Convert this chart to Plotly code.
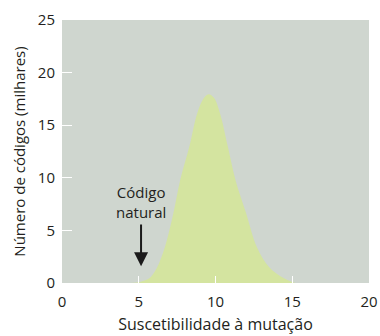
import plotly.graph_objects as go

# Distribution of code susceptibility to mutation (thousands of codes)
susceptibility = [4.4, 5.0, 5.5, 5.8, 6.2, 6.7, 7.25, 7.7, 8.3, 8.8, 9.2, 9.55,
                  9.9, 10.3, 10.8, 11.3, 12.0, 12.7, 13.5, 14.4, 15.0, 15.2]
codes_thousands = [0.0, 0.08, 0.3, 0.6, 1.5, 3.4, 6.6, 9.8, 13.0, 16.1, 17.5, 17.95,
                   17.6, 16.1, 13.0, 9.8, 6.6, 3.4, 1.5, 0.5, 0.1, 0.0]

natural_code_x = 5.15
label_text = "Código<br>natural"
x_ticks = [0, 5, 10, 15, 20]
y_ticks = [0, 5, 10, 15, 20, 25]

FONT = "Open Sans, Noto Sans, sans-serif"
TXT = "#231f20"

fig = go.Figure()
fig.add_trace(go.Scatter(
    x=susceptibility, y=codes_thousands,
    mode="lines", line=dict(color="#d4e4a0", width=0, shape="spline", smoothing=1.0),
    fill="tozeroy", fillcolor="#d4e4a0", hoverinfo="skip", showlegend=False,
))

# arrow pointing at the natural code
fig.add_annotation(
    x=natural_code_x, y=1.6, ax=natural_code_x, ay=5.7,
    xref="x", yref="y", axref="x", ayref="y",
    showarrow=True, arrowhead=2, arrowsize=1.4, arrowwidth=2, arrowcolor="#1a1a1a",
    text="",
)
fig.add_annotation(
    x=natural_code_x, y=7.7, xref="x", yref="y", text=label_text,
    showarrow=False, font=dict(family=FONT, size=15, color=TXT), align="center",
)

fig.update_layout(
    width=380, height=336,
    margin=dict(l=62, r=11, t=20, b=53),
    paper_bgcolor="white", plot_bgcolor="#cfd6cf",
    font=dict(family=FONT, size=15, color=TXT),
)
fig.update_xaxes(
    range=[0, 20], tickvals=x_ticks, ticks="inside", ticklen=7, tickwidth=1,
    tickcolor="white", showgrid=False, zeroline=False, showline=False,
    ticklabelstandoff=8, tickfont=dict(size=15), automargin=False,
    title=dict(text="Suscetibilidade à mutação", font=dict(size=16), standoff=8),
)
fig.update_yaxes(
    range=[0, 25], tickvals=y_ticks, ticks="inside", ticklen=10, tickwidth=1,
    tickcolor="white", showgrid=False, zeroline=False, showline=False,
    ticklabelstandoff=6, tickfont=dict(size=15), automargin=False,
    title=dict(text="Número de códigos (milhares)", font=dict(size=15), standoff=8),
)

fig.write_html("out.html")
